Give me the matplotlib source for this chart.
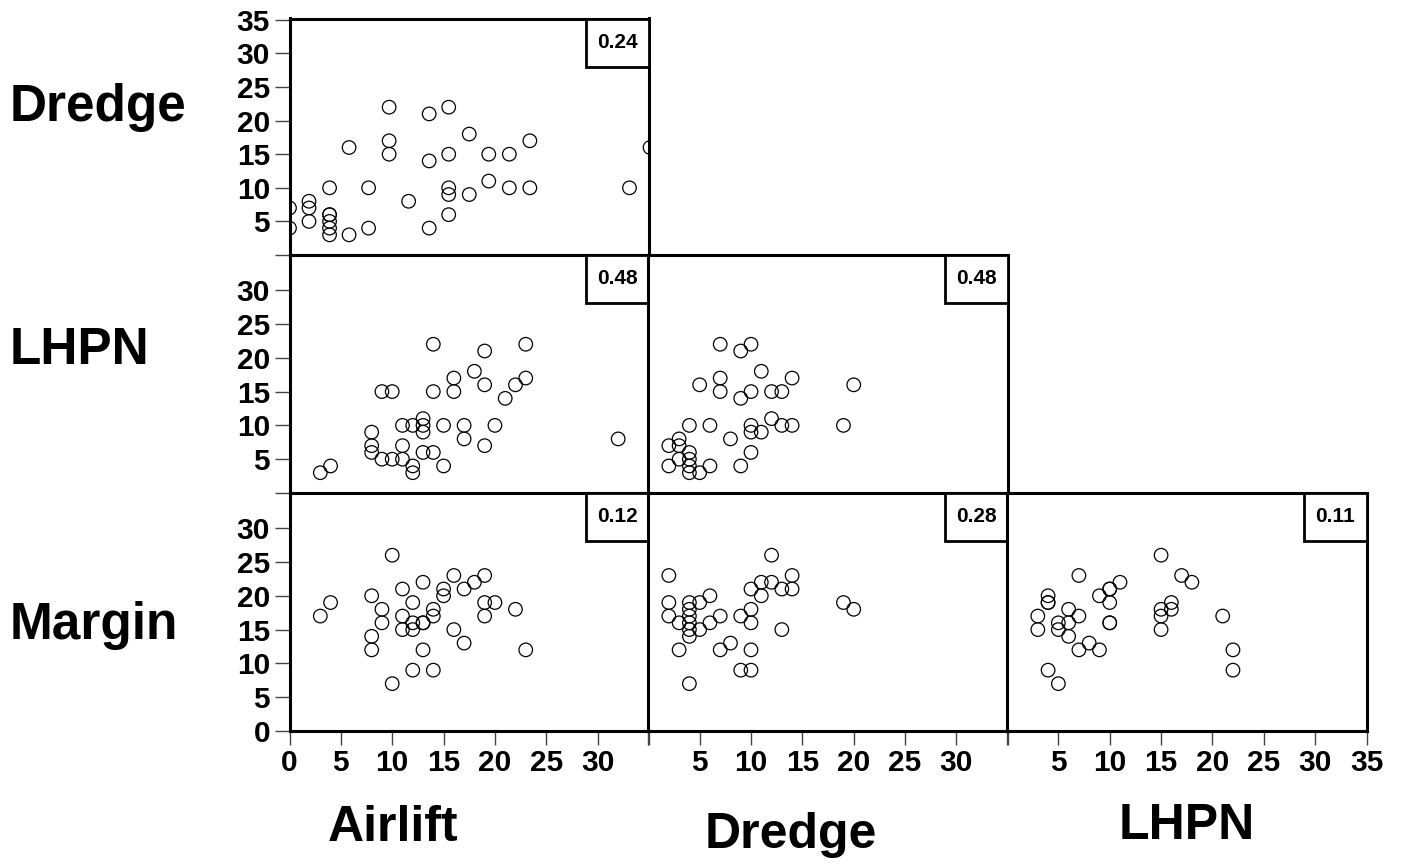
import matplotlib
matplotlib.use("Agg")
import matplotlib.pyplot as plt
from matplotlib.patches import Rectangle

plt.rcParams['font.family'] = ['Liberation Sans', 'DejaVu Sans']
plt.rcParams['font.weight'] = 'bold'

# Airlift vs Dredge
airlift_a = [0, 0, 1.9, 1.9, 1.9, 3.9, 3.9, 3.9, 3.9, 3.9, 3.9, 5.8, 5.8, 7.7, 7.7,
             9.7, 9.7, 9.7, 11.6, 13.6, 13.6, 13.6, 15.5, 15.5, 15.5, 15.5, 15.5,
             17.5, 17.5, 19.4, 19.4, 21.4, 21.4, 23.4, 23.4, 33.1, 35.1]
dredge_a = [7, 4, 8, 7, 5, 10, 6, 6, 5, 4, 3, 16, 3, 10, 4, 22, 17, 15, 8, 21, 14, 4,
            22, 15, 10, 9, 6, 18, 9, 15, 11, 15, 10, 17, 10, 10, 16]

# Airlift vs LHPN
airlift_b = [3, 4, 8, 8, 8, 9, 10, 9, 10, 11, 11, 11, 12, 12, 12, 13, 13, 13, 13,
             14, 14, 14, 15, 15, 16, 16, 17, 17, 18, 19, 19, 19, 20, 21, 22, 23, 23, 32]
lhpn_b = [3, 4, 9, 7, 6, 15, 15, 5, 5, 10, 7, 5, 10, 4, 3, 11, 10, 9, 6, 22, 15, 6,
          10, 4, 17, 15, 10, 8, 18, 21, 16, 7, 10, 14, 16, 22, 17, 8]

# Dredge vs LHPN
dredge_c = [2, 2, 3, 3, 3, 4, 4, 4, 4, 4, 5, 5, 6, 6, 7, 7, 7, 8, 9, 9, 9, 10, 10,
            10, 10, 10, 11, 11, 12, 12, 13, 13, 14, 14, 19, 20]
lhpn_c = [7, 4, 8, 7, 5, 6, 5, 4, 3, 10, 16, 3, 10, 4, 22, 17, 15, 8, 21, 14, 4, 22,
          15, 10, 9, 6, 18, 9, 15, 11, 15, 10, 17, 10, 10, 16]

# Airlift vs Margin
airlift_d = [3, 4, 8, 8, 8, 9, 9, 10, 10, 11, 11, 11, 12, 12, 12, 12, 13, 13, 13, 13,
             14, 14, 14, 15, 15, 16, 16, 17, 17, 18, 19, 19, 19, 20, 22, 23]
margin_d = [17, 19, 20, 14, 12, 18, 16, 26, 7, 21, 17, 15, 19, 16, 15, 9, 22, 16, 16,
            12, 18, 17, 9, 21, 20, 23, 15, 21, 13, 22, 23, 19, 17, 19, 18, 12]

# Dredge vs Margin
dredge_e = [2, 2, 2, 3, 3, 4, 4, 4, 4, 4, 4, 4, 5, 5, 6, 6, 7, 7, 8, 9, 9, 10, 10, 10,
            10, 10, 11, 11, 12, 12, 13, 13, 14, 14, 19, 20]
margin_e = [23, 19, 17, 16, 12, 19, 18, 17, 16, 15, 14, 7, 19, 15, 20, 16, 17, 12, 13,
            17, 9, 21, 18, 16, 12, 9, 22, 20, 26, 22, 21, 15, 23, 21, 19, 18]

# LHPN vs Margin
lhpn_f = [3, 3, 4, 4, 4, 4, 5, 5, 5, 6, 6, 6, 7, 7, 7, 8, 9, 9, 10, 10, 10, 10, 10, 11,
          15, 15, 15, 15, 16, 16, 17, 18, 21, 22, 22]
margin_f = [17, 15, 20, 19, 19, 9, 16, 15, 7, 18, 16, 14, 23, 17, 12, 13, 20, 12, 21, 21,
            19, 16, 16, 22, 26, 18, 17, 15, 19, 18, 23, 22, 17, 12, 9]

row_names = ["Dredge", "LHPN", "Margin"]
col_names = ["Airlift", "Dredge", "LHPN"]
corr = {(0, 0): "0.24", (1, 0): "0.48", (1, 1): "0.48",
        (2, 0): "0.12", (2, 1): "0.28", (2, 2): "0.11"}
panels = {(0, 0): (airlift_a, dredge_a), (1, 0): (airlift_b, lhpn_b),
          (1, 1): (dredge_c, lhpn_c), (2, 0): (airlift_d, margin_d),
          (2, 1): (dredge_e, margin_e), (2, 2): (lhpn_f, margin_f)}

W, H = 1401, 865
fig = plt.figure(figsize=(W / 100, H / 100), dpi=100)

col_left = [289.5, 648.3, 1007.0]
col_w = 359.5
row_top = [18.5, 255.0, 493.0]
row_bot = [255.0, 493.0, 731.0]

tick_font = dict(fontsize=21.5, fontweight='bold')

for (r, c), (xs, ys) in panels.items():
    ax = fig.add_axes([col_left[c] / W, (H - row_bot[r]) / H,
                       col_w / W, (row_bot[r] - row_top[r]) / H])
    ax.scatter(xs, ys, s=95, facecolors='none', edgecolors='black',
               linewidths=0.9, zorder=3)
    ax.set_xlim(0, 35)
    ax.set_ylim(0, 35.2)
    for sp in ax.spines.values():
        sp.set_linewidth(2.2)
        sp.set_color('black')

    # y axis only on the first column
    if c == 0:
        if r == 0:
            yt = [0, 5, 10, 15, 20, 25, 30, 35]
            yl = ["", "5", "10", "15", "20", "25", "30", "35"]
        elif r == 1:
            yt = [0, 5, 10, 15, 20, 25, 30]
            yl = ["", "5", "10", "15", "20", "25", "30"]
        else:
            yt = [0, 5, 10, 15, 20, 25, 30]
            yl = ["0", "5", "10", "15", "20", "25", "30"]
        ax.set_yticks(yt)
        ax.set_yticklabels(yl, **tick_font)
        ax.tick_params(axis='y', length=11, width=1, color='#444444', pad=3)
    else:
        ax.set_yticks([])

    # x axis only on the bottom row
    if r == 2:
        xt = [0, 5, 10, 15, 20, 25, 30, 35]
        if c == 0:
            xl = ["0", "5", "10", "15", "20", "25", "30", ""]
        elif c == 1:
            xl = ["", "5", "10", "15", "20", "25", "30", ""]
        else:
            xl = ["", "5", "10", "15", "20", "25", "30", "35"]
        ax.set_xticks(xt)
        ax.set_xticklabels(xl, **tick_font)
        ax.tick_params(axis='x', length=10, width=1, color='#444444', pad=3)
    else:
        ax.set_xticks([])

    # correlation box in the upper-right corner
    bw, bh = 63 / col_w, 48 / (row_bot[r] - row_top[r])
    ax.add_patch(Rectangle((1 - bw, 1 - bh), bw, bh, transform=ax.transAxes,
                           facecolor='white', edgecolor='black', linewidth=2.0,
                           zorder=5, clip_on=False))
    ax.text(1 - bw / 2, 1 - bh / 2, corr[(r, c)], transform=ax.transAxes,
            ha='center', va='center', fontsize=15, fontweight='bold', zorder=6)

# row labels
row_label_y = [108, 350, 625]
for name, yy in zip(row_names, row_label_y):
    fig.text(10 / W, 1 - yy / H, name, ha='left', va='center',
             fontsize=37, fontweight='bold')

# column labels
col_label_pos = [(393, 828), (791, 835), (1187, 826)]
for name, (xx, yy) in zip(col_names, col_label_pos):
    fig.text(xx / W, 1 - yy / H, name, ha='center', va='center',
             fontsize=36, fontweight='bold')

fig.savefig("out.png", dpi=100)
